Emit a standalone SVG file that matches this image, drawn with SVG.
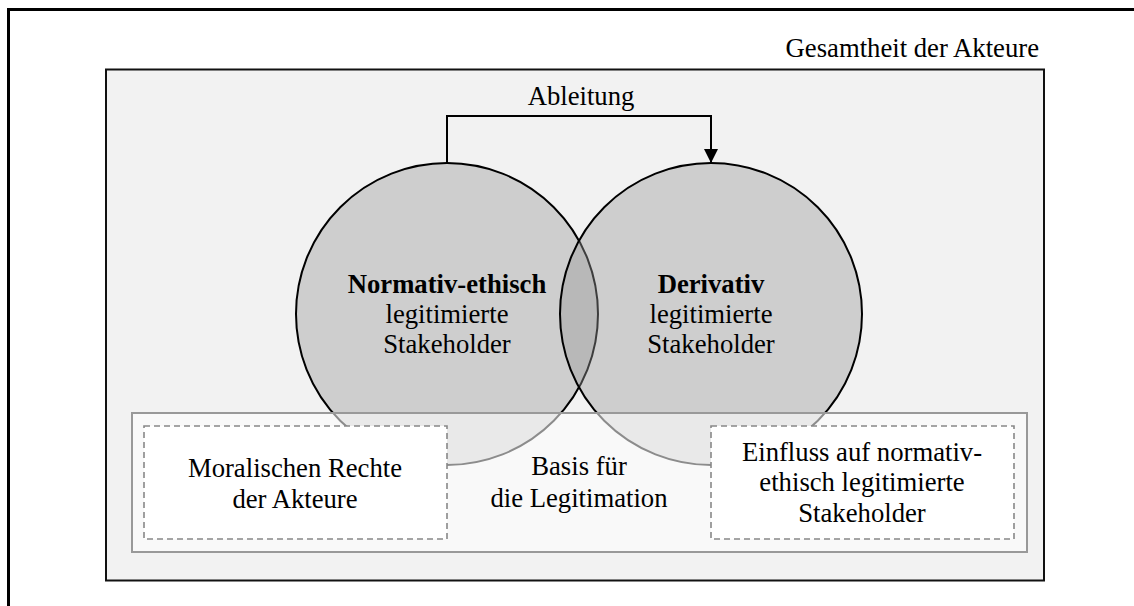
<svg xmlns="http://www.w3.org/2000/svg" width="1134" height="606" viewBox="0 0 1134 606">
  <style>
    text { font-family: "Liberation Serif", "DejaVu Serif", serif; font-size: 26.7px; fill: #000; text-anchor: middle; }
    .b { font-weight: bold; }
    .circle { fill: #999999; fill-opacity: 0.4; stroke: #000; stroke-width: 2; }
    .dash { fill: #ffffff; stroke: #888888; stroke-width: 1.6; stroke-dasharray: 6 4; }
  </style>
  <defs>
    <marker id="arrow" viewBox="0 0 14 14" refX="14" refY="7" markerWidth="14" markerHeight="14" markerUnits="userSpaceOnUse" orient="auto">
      <path d="M0,0 L14,7 L0,14 z" fill="#000"/>
    </marker>
  </defs>

  <rect width="1134" height="606" fill="#ffffff"/>

  <!-- outer frame (runs past the right and bottom edges) -->
  <rect x="8.5" y="9.5" width="1140" height="620" fill="none" stroke="#000" stroke-width="3"/>

  <!-- all actors -->
  <g id="gesamtheit">
    <rect x="106" y="69.5" width="938" height="511" fill="#f2f2f2" stroke="#111" stroke-width="2"/>
    <text x="1039" y="57" style="text-anchor:end">Gesamtheit der Akteure</text>
  </g>

  <!-- connectors -->
  <g id="connectors">
    <path d="M447,163 V116 H711 V163" fill="none" stroke="#000" stroke-width="2" marker-end="url(#arrow)"/>
    <text x="581" y="105">Ableitung</text>
  </g>

  <!-- stakeholder circles -->
  <g id="normativ">
    <circle class="circle" cx="447" cy="314" r="151"/>
  </g>
  <g id="derivativ">
    <circle class="circle" cx="711" cy="314" r="151"/>
  </g>
  <g id="normativ-label">
    <text class="b" x="447" y="293">Normativ-ethisch</text>
    <text x="447" y="323">legitimierte</text>
    <text x="447" y="353">Stakeholder</text>
  </g>
  <g id="derivativ-label">
    <text class="b" x="711" y="293">Derivativ</text>
    <text x="711" y="323">legitimierte</text>
    <text x="711" y="353">Stakeholder</text>
  </g>

  <!-- basis for legitimation -->
  <g id="basis">
    <rect x="132" y="413" width="895" height="139" fill="#ffffff" fill-opacity="0.55" stroke="#999999" stroke-width="2"/>
    <text x="579" y="475">Basis für</text>
    <text x="579" y="507">die Legitimation</text>
  </g>

  <g id="moralische-rechte">
    <rect class="dash" x="144" y="426" width="303" height="113"/>
    <text x="295" y="477">Moralischen Rechte</text>
    <text x="295" y="508">der Akteure</text>
  </g>

  <g id="einfluss">
    <rect class="dash" x="711" y="426" width="303" height="113"/>
    <text x="862" y="461">Einfluss auf normativ-</text>
    <text x="862" y="491">ethisch legitimierte</text>
    <text x="862" y="522">Stakeholder</text>
  </g>
</svg>
